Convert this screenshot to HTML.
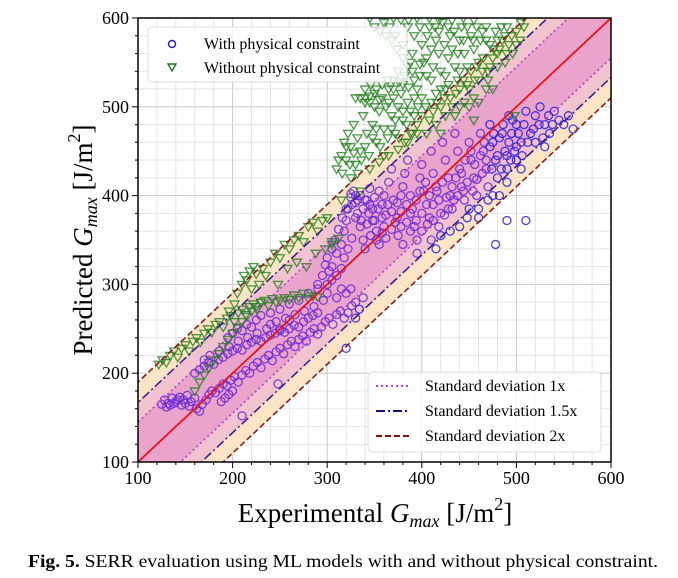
<!DOCTYPE html>
<html><head><meta charset="utf-8"><style>
html,body{margin:0;padding:0;background:#fff;width:678px;height:578px;overflow:hidden;font-family:"Liberation Serif",serif}
svg{display:block;position:absolute;left:0;top:0}
</style></head><body>
<svg id="chart" width="678" height="578" viewBox="0 0 678 578" xmlns="http://www.w3.org/2000/svg" font-family="Liberation Serif, serif">
<defs><clipPath id="clip"><rect x="138" y="18" width="473" height="444"/></clipPath></defs>
<rect x="0" y="0" width="678" height="578" fill="#fff"/>
<g id="grid"></g>
<g id="bands" clip-path="url(#clip)"></g>
<g id="pts" clip-path="url(#clip)"></g>
<g id="lines" clip-path="url(#clip)"></g>
<rect x="138" y="18" width="473" height="444" fill="none" stroke="#000" stroke-width="1.5"/>
<g id="axes"></g>
<text x="375" y="522" text-anchor="middle" font-size="27">Experimental <tspan font-style="italic">G</tspan><tspan font-style="italic" font-size="18" dy="5">max</tspan><tspan dy="-5"> [J/m</tspan><tspan font-size="18" dy="-12">2</tspan><tspan dy="12">]</tspan></text>
<text transform="translate(92,240) rotate(-90)" text-anchor="middle" font-size="27">Predicted <tspan font-style="italic">G</tspan><tspan font-style="italic" font-size="18" dy="5">max</tspan><tspan dy="-5"> [J/m</tspan><tspan font-size="18" dy="-12">2</tspan><tspan dy="12">]</tspan></text>
<g>
<rect x="148" y="27" width="259" height="55" rx="4" fill="#fff" fill-opacity="0.8" stroke="#ddd"/>
<circle cx="172" cy="44" r="3.5" fill="none" stroke="#1a1ae0" stroke-width="1.4"/>
<text x="204" y="49" font-size="16">With physical constraint</text>
<path d="M168,64 L176,64 L172,71 Z" fill="none" stroke="#1a7a1a" stroke-width="1.4"/>
<text x="204" y="73" font-size="16">Without physical constraint</text>
</g>
<g>
<rect x="368" y="372" width="233" height="80" rx="4" fill="#fff" fill-opacity="0.8" stroke="#ddd"/>
<line x1="376" y1="386" x2="410" y2="386" stroke="#b040d0" stroke-width="2" stroke-dasharray="2,3"/>
<text x="425" y="391" font-size="16">Standard deviation 1x</text>
<line x1="376" y1="411" x2="410" y2="411" stroke="#10108a" stroke-width="2" stroke-dasharray="9,3,2,3"/>
<text x="425" y="416" font-size="16">Standard deviation 1.5x</text>
<line x1="376" y1="436" x2="410" y2="436" stroke="#8b1010" stroke-width="2" stroke-dasharray="6,3"/>
<text x="425" y="441" font-size="16">Standard deviation 2x</text>
</g>
<text x="28" y="567" font-size="18" textLength="630" lengthAdjust="spacingAndGlyphs"><tspan font-weight="bold">Fig. 5.</tspan> SERR evaluation using ML models with and without physical constraint.</text>
</svg>
<script>
const xTicks=[100,200,300,400,500,600];
const yTicks=[100,200,300,400,500,600];
const sigma=[45,67,90];
const withPts=[[125,165],[128,170],[132,166],[136,172],[140,168],[144,173],[148,170],[152,175],[156,168],[160,172],[162,160],[165,157],[168,165],[172,170],[175,176],[178,180],[182,178],[186,183],[190,188],[194,186],[198,192],[202,196],[206,190],[210,198],[214,203],[218,200],[222,208],[226,212],[230,206],[234,216],[238,220],[242,214],[246,224],[250,228],[254,222],[258,232],[262,236],[266,230],[270,238],[274,242],[278,236],[282,246],[286,250],[290,244],[294,252],[298,258],[302,262],[306,255],[310,266],[314,270],[318,262],[322,268],[326,276],[330,280],[334,272],[338,285],[320,290],[325,295],
[210,152],[248,188],[320,228],[330,262],
[160,200],[165,204],[170,208],[175,212],[180,210],[185,215],[190,218],[195,222],[200,225],[205,228],[210,226],[215,232],[220,235],[225,238],[230,236],[235,240],[240,243],[245,245],[250,248],[255,246],[260,250],[265,254],[270,252],[275,258],[280,262],[285,265],[290,268],[195,240],[200,245],[205,250],[210,248],[215,255],[220,252],[225,260],[230,265],[240,268],[250,272],[260,278],[270,282],[280,290],[290,295],[300,300],[250,250],[260,260],[240,255],
[305,320],[310,335],[315,345],[318,360],[320,372],[322,385],[325,398],[328,405],[330,392],[332,380],[335,365],[338,350],[340,340],[342,395],[345,408],[348,385],[350,372],[352,360],[355,345],[358,390],[360,400],[362,378],[365,415],[368,430],[370,395],[372,370],[375,355],[378,382],[380,410],[382,425],[385,440],[388,400],[390,385],[392,365],[395,350],[398,420],[400,435],[402,405],[405,390],[408,375],[410,450],[412,425],[415,410],[418,395],[420,380],[422,460],[425,440],[428,420],[430,400],[432,385],[435,470],[438,450],[440,430],[442,410],[445,395],[448,375],[450,460],[452,440],[455,420],[458,400],[460,385],[462,470],[465,450],[468,430],[470,410],[472,480],[475,460],[478,440],[480,420],[482,400],[485,470],[488,450],[490,430],[492,490],[495,470],[498,450],[500,480],[505,460],[510,495],[515,470],[520,490],[525,500],[530,480],[535,470],[540,495],[545,485],[550,480],[560,475],[555,490],[520,460],[530,455],[500,440],[505,430],[490,415],[470,395],[475,400],
[340,395],[350,398],[355,405],[345,390],[335,400],[330,400],[325,402],[360,365],[380,345],[395,335],[410,350],[400,360],[420,355],[440,365],[460,375],[450,385],[430,360],[415,340],
[478,345],[490,372],[510,372],[315,295],[310,285],[300,290],[305,305],[295,310],[290,300],
[300,330],[305,340],[308,350],[312,362],[316,375],[320,385],[326,390],[332,395],[338,385],[344,380],[348,372],[354,385],[358,375],[364,390],[368,382],[374,392],[378,400],[384,390],[388,380],[394,395],[398,405],[404,415],[408,400],[412,390],[416,405],[422,415],[426,398],[432,410],[436,420],[442,425],[446,440],[452,450],[456,435],[462,445],[466,460],[472,455],[476,470],[482,465],[486,480],[492,460],[496,485],[502,470],[508,480],[512,460],[518,475],[524,480],[528,465],[534,490],[538,480],[330,375],[336,372],[342,368],[346,355],[352,350],[358,358],[362,352],[368,362],[374,375],[378,365],[384,370],[388,360],[394,372],[400,380],[406,368],[412,372],[418,365],[424,378],[428,385],[434,395],[438,400],[444,405],[448,415],[454,405],[458,418],[464,425],[468,440],[474,430],[480,445],[484,430],[490,445],[494,440],[500,455],[506,445],[318,330],[322,340],[326,352],[310,310],[315,318],[302,315],[298,322],[296,282],[286,275],[276,270],[266,266],[256,262],[246,258],[236,250],[226,245],[216,240],[206,236],[196,230],[186,225],[176,220],[170,215],[200,180],[196,176],[192,172],[188,168],[154,163],[150,166],[146,164],[142,170],[138,166],[134,164],[130,162]];
const withoutPts=[[122,210],[126,215],[130,212],[134,220],[138,225],[142,218],[146,228],[150,232],[154,225],[158,236],[162,240],[166,235],[170,245],[174,250],[178,246],[182,255],[186,258],[190,252],[194,262],[198,265],[202,258],[206,268],[210,272],[214,266],[218,275],[222,278],[226,272],[230,280],[234,282],[238,276],[242,284],[246,280],[250,282],[255,285],[260,283],[265,288],[270,285],[275,290],[280,284],[285,287],[290,286],
[205,290],[210,300],[212,310],[215,305],[218,315],[220,295],[222,320],[225,312],[228,300],[232,318],[235,310],[240,325],[245,335],[250,330],[255,345],[260,340],[265,350],[270,355],[275,348],[280,365],[285,370],[290,360],[295,372],[300,375],[248,300],[258,318],[268,325],[278,320],[288,335],[298,340],[305,345],[312,352],[202,278],[196,270],
[160,180],[165,190],[170,198],[175,206],[180,215],[185,222],[190,230],[195,238],[200,245],[205,252],[210,258],[215,264],[220,270],[225,275],[230,280],[305,348],[315,395],[325,420],[335,405],[345,430],[355,438],[365,445],[375,452],[385,460],[395,470],[405,470],[415,480],[425,490],[440,500],[455,510],[470,530],[480,560],[490,590],[498,490],[455,485],
[310,430],[315,445],[318,460],[320,440],[322,470],[325,455],[328,480],[330,435],[332,465],[335,450],[338,490],[340,510],[342,470],[345,505],[348,480],[350,515],[352,460],[355,495],[358,510],[360,475],[362,500],[365,520],[368,490],[370,510],[372,470],[375,500],[378,515],[380,485],[382,460],[385,505],[388,495],[390,470],[392,510],[395,480],[340,505],[345,512],[330,510],[335,510],[355,508],[365,505],[350,500],
[380,525],[385,545],[390,560],[392,580],[398,535],[400,570],[405,555],[408,590],[410,530],[412,545],[415,575],[418,560],[420,540],[422,595],[425,520],[428,555],[430,580],[432,565],[435,545],[438,530],[440,575],[442,590],[445,560],[448,545],[450,520],[452,580],[455,565],[458,545],[460,530],[462,575],[465,555],[468,590],[470,540],[472,570],[475,555],[478,585],[480,545],[482,565],[485,575],[488,550],[490,560],[495,580],[500,570],[505,595],[410,505],[420,500],[430,510],[440,520],[400,510],[395,520],[360,595],[345,600],[455,598],[395,600],[375,540],[370,530],[420,470],[435,490],[450,500],[460,505],[475,520],[390,540],[405,535],[415,515],[425,535],[445,505],[366,590],[372,580],[380,570],[385,590],
[312,440],[316,425],[320,455],[324,435],[328,448],[332,425],[336,440],[340,455],[344,445],[348,465],[352,475],[356,455],[360,445],[364,465],[368,475],[372,485],[376,465],[380,495],[384,480],[388,470],[392,490],[396,500],[400,490],[404,500],[408,485],[412,495],[416,505],[420,520],[424,510],[428,525],[432,500],[436,515],[440,540],[444,530],[448,525],[452,540],[456,530],[460,550],[464,540],[468,520],[472,545],[476,565],[480,575],[484,590],[488,580],[492,570],[496,560],[500,585],[504,575],[508,590],[402,550],[406,580],[410,565],[414,590],[418,585],[424,570],[428,590],[434,585],[438,560],[444,575],[448,590],[454,575],[458,590],[464,585],[468,575],[340,520],[346,525],[352,520],[358,525],[364,530],[370,520],[376,528],[382,535],[386,522],[392,530],[398,548],[388,550],[380,555],[374,565],[368,575],[362,580],[356,585],[350,590],[370,600],[378,598],[386,598],[398,590],[408,600],[418,598],[432,598],[444,600]];

const NS='http://www.w3.org/2000/svg';
const X0=138,X1=611,Y0=462,Y1=18;
function sx(v){return X0+(v-100)*(X1-X0)/500;}
function sy(v){return Y0-(v-100)*(Y0-Y1)/500;}
function mk(tag,attrs,parent){const e=document.createElementNS(NS,tag);for(const k in attrs)e.setAttribute(k,attrs[k]);parent.appendChild(e);return e;}
const grid=document.getElementById('grid'),bands=document.getElementById('bands'),pts=document.getElementById('pts'),lines=document.getElementById('lines'),axes=document.getElementById('axes');
for(let v=100;v<=600;v+=20){
 const major=(v%100===0);
 const g1=mk('line',{x1:sx(v),x2:sx(v),y1:Y1,y2:Y0,stroke:major?'#c8c8c8':'#dedede','stroke-width':major?1:0.8},grid);
 
 
 const g2=mk('line',{y1:sy(v),y2:sy(v),x1:X0,x2:X1,stroke:major?'#c8c8c8':'#dedede','stroke-width':major?1:0.8},grid);
 
 
 const t1=mk('line',{x1:sx(v),x2:sx(v),y1:Y0,y2:Y0+(major?6:3),stroke:'#000','stroke-width':1},axes);
 
 
 const t2=mk('line',{y1:sy(v),y2:sy(v),x1:X0,x2:X0-(major?6:3),stroke:'#000','stroke-width':1},axes);
 
 
}
function band(d,fill){
 return mk('polygon',{points:`${sx(0)},${sy(0+d)} ${sx(700)},${sy(700+d)} ${sx(700)},${sy(700-d)} ${sx(0)},${sy(0-d)}`,fill:fill},bands);
}
const b2=band(sigma[2],'#fde4c4');


const b15=band(sigma[1],'#f1c3cf');


const b1=band(sigma[0],'#eaa3cb');


withPts.forEach(p=>{
 const c=mk('circle',{cx:sx(p[0]),cy:sy(p[1]),r:4,fill:'none',stroke:(p[1]<p[0]-60||p[0]>470)?'#2a20e0':'#6a2ad8','stroke-width':1.3,'stroke-opacity':0.85},pts);
 
 
});
withoutPts.forEach(p=>{
 const x=sx(p[0]),y=sy(p[1]);
 const t=mk('path',{d:`M${x-4.5},${y-3} L${x+4.5},${y-3} L${x},${y+4.5} Z`,fill:'none',stroke:'#1f7f1a','stroke-width':1.3,'stroke-opacity':0.8},pts);
 
 
});
function dline(d,color,dash,name){
 [d,-d].forEach(o=>{
  const l=mk('line',{x1:sx(0),y1:sy(0+o),x2:sx(700),y2:sy(700+o),stroke:color,'stroke-width':1.6,'stroke-dasharray':dash},lines);
  
  
 });
}
dline(sigma[0],'#b040d0','2,3','std-line-1x');
dline(sigma[1],'#3a2090','9,3,2,3','std-line-1-5x');
dline(sigma[2],'#8b1a1a','6,3','std-line-2x');
const idl=mk('line',{x1:sx(100),y1:sy(100),x2:sx(600),y2:sy(600),stroke:'#ee1111','stroke-width':1.8},lines);


xTicks.forEach(v=>{
 const t=mk('text',{x:sx(v),y:Y0+22,'text-anchor':'middle','font-size':18},axes);
 t.textContent=v;
 
 
});
yTicks.forEach(v=>{
 const t=mk('text',{x:X0-9,y:sy(v)+6,'text-anchor':'end','font-size':18},axes);
 t.textContent=v;
 
 
});
</script>
</body></html>
